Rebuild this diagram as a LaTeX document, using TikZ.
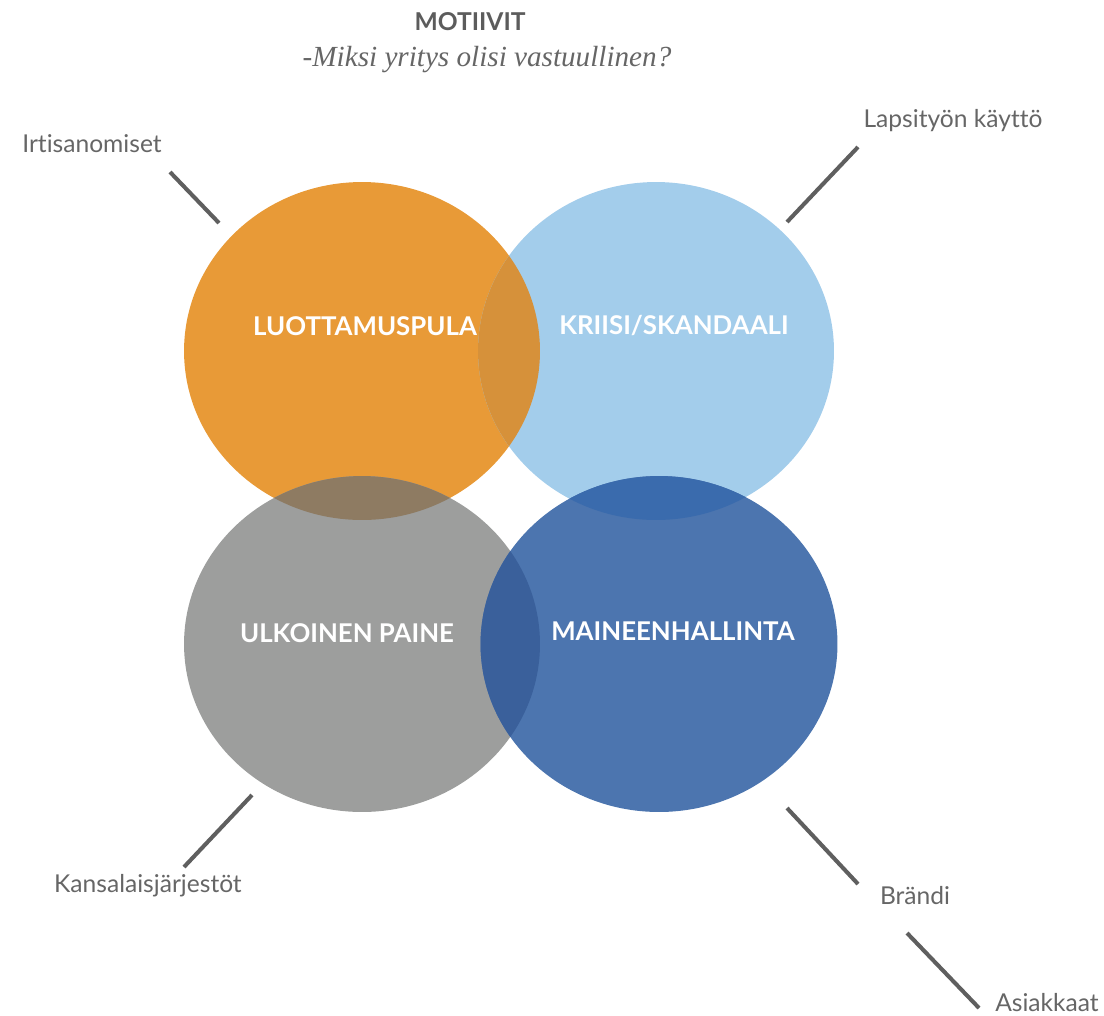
\documentclass[tikz,border=0pt]{standalone}
\usepackage{fontspec}
\setmainfont{Lato}[Ligatures=NoCommon]
\newfontfamily\subfont{Liberation Serif}
\definecolor{orng}{HTML}{E89A37}
\definecolor{lblue}{HTML}{A3CDEB}
\definecolor{grey}{HTML}{9D9E9D}
\definecolor{dblue}{HTML}{4C75AF}
\definecolor{olb}{HTML}{D6913A}
\definecolor{ogr}{HTML}{8E7B62}
\definecolor{ldb}{HTML}{3A6BAD}
\definecolor{gdb}{HTML}{3A609B}
\definecolor{txtgray}{HTML}{666666}
\definecolor{linegray}{HTML}{5F5F5F}
\begin{document}
\begin{tikzpicture}[x=0.02cm,y=-0.02cm,
  lbl/.style={text=txtgray,font=\fontsize{14}{16}\selectfont,inner sep=0pt},
  ttl/.style={text=white,font=\bfseries\fontsize{14.7}{18}\selectfont,inner sep=0pt},
  tick/.style={draw=linegray,line width=2.3pt}]
\useasboundingbox (0,0) rectangle (1104,1015);
% centres
\coordinate (co) at (362,351);
\coordinate (cl) at (656,351);
\coordinate (cg) at (362,644);
\coordinate (cd) at (659,644);
%
\fill[orng]  (co) ellipse [x radius=3.56cm,y radius=3.38cm];
\fill[lblue] (cl) ellipse [x radius=3.56cm,y radius=3.38cm];
\fill[grey]  (cg) ellipse [x radius=3.56cm,y radius=3.36cm];
\fill[dblue] (cd) ellipse [x radius=3.57cm,y radius=3.36cm];
% overlaps
\begin{scope}
\clip (co) ellipse [x radius=3.56cm,y radius=3.38cm];
\fill[olb] (cl) ellipse [x radius=3.56cm,y radius=3.38cm];
\fill[ogr] (cg) ellipse [x radius=3.56cm,y radius=3.36cm];
\end{scope}
\begin{scope}
\clip (cd) ellipse [x radius=3.57cm,y radius=3.36cm];
\fill[ldb] (cl) ellipse [x radius=3.56cm,y radius=3.38cm];
\fill[gdb] (cg) ellipse [x radius=3.56cm,y radius=3.36cm];
\end{scope}
%
\node[ttl] (luott) at (365,326) {LUOTTAMUSPULA};
\node[ttl] (kriisi) at (674,326) {KRIISI/SKANDAALI};
\node[ttl] (ulko) at (347,633) {ULKOINEN PAINE};
\node[ttl] (maine) at (673,631) {MAINEENHALLINTA};
%
\node[text=txtgray!90!black,font=\bfseries\fontsize{14}{16}\selectfont] (motiivit) at (470,22) {MOTIIVIT};
\node[text=txtgray,font=\subfont\itshape\fontsize{16.6}{19}\selectfont] (miksi) at (487,60) {-Miksi yritys olisi vastuullinen?};
%
\node[lbl] (irti) at (92,144) {Irtisanomiset};
\node[lbl] (lapsi) at (953,121) {Lapsityön käyttö};
\node[lbl] (kansa) at (148,886) {Kansalaisjärjestöt};
\node[lbl] (brandi) at (915,896) {Brändi};
\node[lbl] (asiak) at (1047,1003) {Asiakkaat};
%
\coordinate (irti1) at (170,172);   \coordinate (irti2) at (219,223);
\coordinate (lapsi1) at (858,147);  \coordinate (lapsi2) at (787,222);
\coordinate (kansa1) at (184,867);  \coordinate (kansa2) at (252,795);
\coordinate (brandi1) at (858,884); \coordinate (brandi2) at (787,808);
\coordinate (asiak1) at (979,1008); \coordinate (asiak2) at (907,933);
\draw[tick] (irti1) -- (irti2);
\draw[tick] (lapsi1) -- (lapsi2);
\draw[tick] (kansa1) -- (kansa2);
\draw[tick] (brandi1) -- (brandi2);
\draw[tick] (asiak1) -- (asiak2);
\end{tikzpicture}
\end{document}
